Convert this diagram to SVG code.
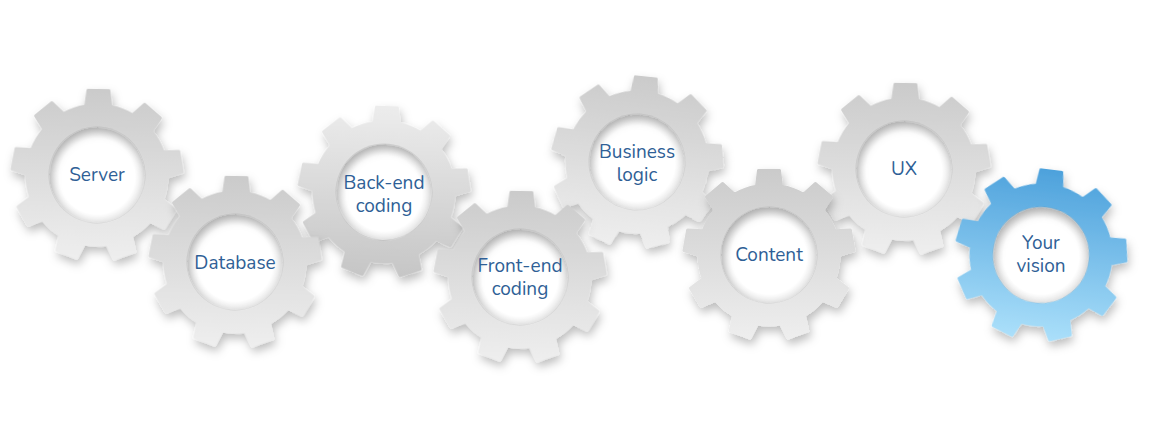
<svg xmlns="http://www.w3.org/2000/svg" xmlns:xlink="http://www.w3.org/1999/xlink" width="1150" height="433" viewBox="0 0 1150 433">
<style>
.lbl{font-family:"Nunito","Lato","Open Sans",sans-serif;font-size:19px;fill:#2f5f96;text-anchor:middle}
.gray{fill:url(#gGray);stroke:url(#gGray);stroke-width:3;stroke-linejoin:round;fill-rule:evenodd;filter:url(#sh)}
.inv{fill:url(#gInv);stroke:url(#gInv);stroke-width:3;stroke-linejoin:round;fill-rule:evenodd;filter:url(#sh)}
.blue{fill:url(#gBlue);stroke:url(#gBlue);stroke-width:3;stroke-linejoin:round;fill-rule:evenodd;filter:url(#sh)}
.hole{fill:url(#gHole)}
</style>
<defs>
<linearGradient id="gGray" x1="0" y1="0" x2="0" y2="1"><stop offset="0" stop-color="#cbcbcb"/><stop offset="1" stop-color="#eeeeee"/></linearGradient>
<linearGradient id="gInv" x1="0" y1="0" x2="0" y2="1"><stop offset="0" stop-color="#ececec"/><stop offset="1" stop-color="#c6c6c6"/></linearGradient>
<linearGradient id="gBlue" x1="0" y1="0" x2="0" y2="1"><stop offset="0" stop-color="#4ea2dc"/><stop offset="1" stop-color="#aadffa"/></linearGradient>
<radialGradient id="gHole" cx="0.5" cy="0.5" r="0.5" fx="0.5" fy="0.56">
<stop offset="0.78" stop-color="#000" stop-opacity="0"/>
<stop offset="1" stop-color="#000" stop-opacity="0.10"/>
</radialGradient>
<filter id="sh" x="-30%" y="-30%" width="160%" height="160%">
<feDropShadow dx="2" dy="5" stdDeviation="5" flood-color="#000" flood-opacity="0.26"/>
</filter>
<path id="gear" d="M-12.5,-68.87 L-10.5,-84.5 L10.5,-84.5 L12.5,-68.87 A70,70 0 0 1 34.69,-60.79 L46.27,-71.48 L62.36,-57.98 L53.84,-44.72 A70,70 0 0 1 65.65,-24.27 L81.39,-25.01 L85.04,-4.33 L69.99,0.35 A70,70 0 0 1 65.89,23.61 L78.43,33.16 L67.93,51.34 L53.39,45.26 A70,70 0 0 1 35.30,60.44 L38.77,75.81 L19.03,83.00 L11.81,68.99 A70,70 0 0 1 -11.81,68.99 L-19.03,83.00 L-38.77,75.81 L-35.30,60.44 A70,70 0 0 1 -53.39,45.26 L-67.93,51.34 L-78.43,33.16 L-65.89,23.61 A70,70 0 0 1 -69.99,0.35 L-85.04,-4.33 L-81.39,-25.01 L-65.65,-24.27 A70,70 0 0 1 -53.84,-44.72 L-62.36,-57.98 L-46.27,-71.48 L-34.69,-60.79 A70,70 0 0 1 -12.5,-68.87 Z M0,-49.5 A49.5,49.5 0 1 0 0,49.5 A49.5,49.5 0 1 0 0,-49.5 Z"/>
</defs>
<rect width="1150" height="433" fill="#ffffff"/>
<g id="connectors"/>
<g id="server">
<use xlink:href="#gear" class="gray" transform="translate(97,175) rotate(1)"/>
<circle class="hole" cx="97" cy="175" r="48.5"/>
<text class="lbl" x="97" y="181">Server</text>
</g>
<g id="backend">
<use xlink:href="#gear" class="inv" transform="translate(384,192) rotate(2)"/>
<circle class="hole" cx="384" cy="192" r="48.5"/>
<text class="lbl" x="384" y="189">Back-end</text>
<text class="lbl" x="384" y="212">coding</text>
</g>
<g id="business">
<use xlink:href="#gear" class="gray" transform="translate(637,162) rotate(6)"/>
<circle class="hole" cx="637" cy="162" r="48.5"/>
<text class="lbl" x="637" y="158">Business</text>
<text class="lbl" x="637" y="181">logic</text>
</g>
<g id="ux">
<use xlink:href="#gear" class="gray" transform="translate(904,169) rotate(1)"/>
<circle class="hole" cx="904" cy="169" r="48.5"/>
<text class="lbl" x="904" y="175">UX</text>
</g>
<g id="database">
<use xlink:href="#gear" class="gray" transform="translate(235,262) rotate(1)"/>
<circle class="hole" cx="235" cy="262" r="48.5"/>
<text class="lbl" x="235" y="269">Database</text>
</g>
<g id="frontend">
<use xlink:href="#gear" class="gray" transform="translate(520,277) rotate(1)"/>
<circle class="hole" cx="520" cy="277" r="48.5"/>
<text class="lbl" x="520" y="272">Front-end</text>
<text class="lbl" x="520" y="295">coding</text>
</g>
<g id="content">
<use xlink:href="#gear" class="gray" transform="translate(769,255) rotate(0)"/>
<circle class="hole" cx="769" cy="255" r="48.5"/>
<text class="lbl" x="769" y="261">Content</text>
</g>
<g id="yourvision">
<use xlink:href="#gear" class="blue" transform="translate(1041,255) rotate(7)"/>
<circle class="hole" cx="1041" cy="255" r="48.5"/>
<text class="lbl" x="1041" y="249">Your</text>
<text class="lbl" x="1041" y="272">vision</text>
</g>
</svg>
